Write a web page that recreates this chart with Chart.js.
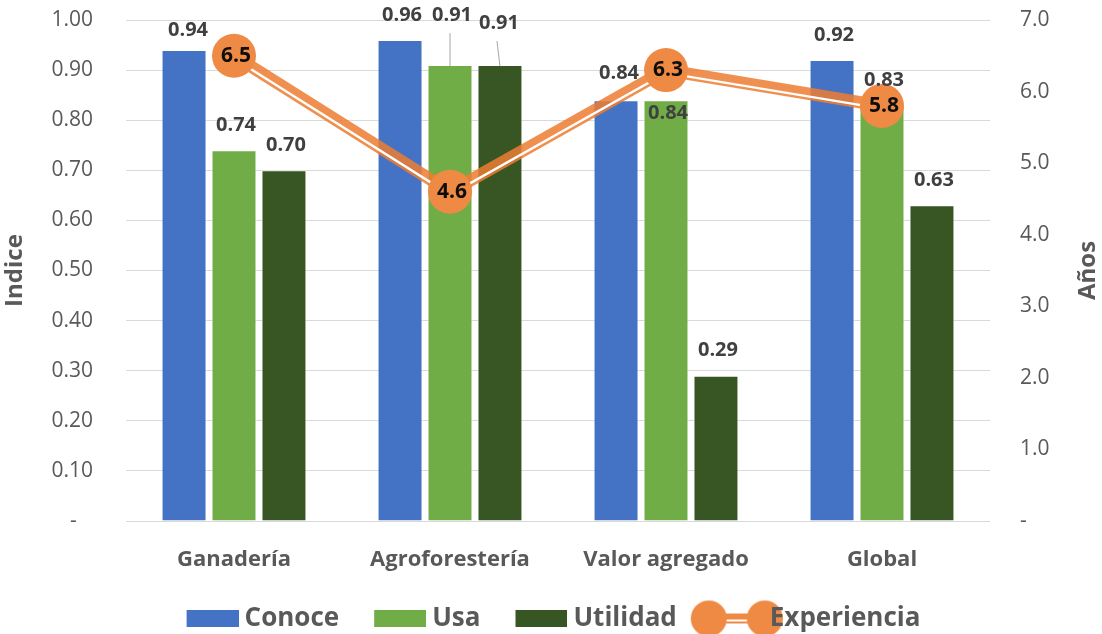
<!DOCTYPE html>
<html>
<head>
<meta charset="utf-8">
<script src="https://cdn.jsdelivr.net/npm/chart.js@4.4.1/dist/chart.umd.min.js"></script>
<style>
  html, body { margin: 0; padding: 0; background: #ffffff; }
  #wrap { width: 1102px; height: 634px; }
</style>
</head>
<body>
<div id="wrap"><canvas id="chart" width="1102" height="634"></canvas></div>
<script>
// ---- data ----
const categories = ['Ganadería', 'Agroforestería', 'Valor agregado', 'Global'];
const conoce = [0.94, 0.96, 0.84, 0.92];
const usa = [0.74, 0.91, 0.84, 0.83];
const utilidad = [0.70, 0.91, 0.29, 0.63];
const experiencia = [6.5, 4.6, 6.3, 5.8];

const indiceTicks = ['-', '0.10', '0.20', '0.30', '0.40', '0.50', '0.60', '0.70', '0.80', '0.90', '1.00'];
const aniosTicks = ['-', '1.0', '2.0', '3.0', '4.0', '5.0', '6.0', '7.0'];

// ---- styling ----
const FONT = "'Open Sans', sans-serif";
const C_CONOCE = '#4472C4';
const C_USA = '#70AD47';
const C_UTIL = '#375623';
const C_LINE = 'rgba(237,125,49,0.85)';
const C_MARK = '#EF8A45';
const GREY_TEXT = '#595959';
const LABEL_TEXT = '#404040';

// legend slot geometry: slot width, gap to the following item
const LEGEND_SLOT = 72;
const LEGEND_GAP = 8;

// label nudges per "dataset-category" (pixels relative to the default spot above a bar)
const labelNudge = {
  '0-0': { dx: 2, dy: 5 },
  '1-1': { dx: 0, dy: -25, leader: true },
  '2-1': { dx: -3, dy: -17, leader: true },
  '0-2': { dx: 1, dy: -2 },
  '1-2': { dx: 0, dy: 38 }
};

Chart.defaults.font.family = FONT;

// legend swatch: a 52x17 box ending just before the label text
function boxIcon(color) {
  const c = document.createElement('canvas');
  c.width = 86; c.height = 17;
  const g = c.getContext('2d');
  g.fillStyle = color;
  g.fillRect(34, 0, 52, 17);
  return c;
}

// legend swatch for the double line with two round markers
function lineIcon() {
  const c = document.createElement('canvas');
  c.width = 124; c.height = 38;
  const g = c.getContext('2d');
  const r = 18, cy = 19, x1 = 62 + 16 - 28, x2 = 62 + 16 + 28;
  g.fillStyle = C_MARK;
  g.fillRect(x1, cy - 5, x2 - x1, 10);
  g.fillStyle = '#ffffff';
  g.fillRect(x1, cy + 1, x2 - x1, 2);
  g.fillStyle = C_MARK;
  g.beginPath(); g.arc(x1, cy, r, 0, Math.PI * 2); g.fill();
  g.beginPath(); g.arc(x2, cy, r, 0, Math.PI * 2); g.fill();
  return c;
}

const legendIcons = [boxIcon(C_CONOCE), boxIcon(C_USA), boxIcon(C_UTIL), lineIcon()];

// shifts the white centre stroke of the double line downwards
const doubleLinePlugin = {
  id: 'doubleLine',
  beforeDatasetDraw(chart, args) {
    if (args.index === 4) { chart.ctx.save(); chart.ctx.translate(0, 2.8); }
  },
  afterDatasetDraw(chart, args) {
    if (args.index === 4) { chart.ctx.restore(); }
  }
};

// value labels for bars and markers, plus the two axis titles
const labelsPlugin = {
  id: 'valueLabels',
  afterDatasetsDraw(chart) {
    const ctx = chart.ctx;
    const barSets = [conoce, usa, utilidad];
    ctx.save();
    ctx.textAlign = 'center';
    ctx.textBaseline = 'middle';
    ctx.font = 'bold 20px ' + FONT;
    barSets.forEach((vals, i) => {
      const meta = chart.getDatasetMeta(i);
      meta.data.forEach((el, j) => {
        const n = labelNudge[i + '-' + j] || { dx: 0, dy: 0 };
        const x = el.x + 2 + n.dx;
        const y = el.y - 25 + n.dy;
        if (n.leader) {
          ctx.strokeStyle = '#A6A6A6';
          ctx.lineWidth = 1;
          ctx.beginPath();
          ctx.moveTo(x - 2, y + 18);
          ctx.lineTo(el.x, el.y + 1);
          ctx.stroke();
        }
        ctx.fillStyle = LABEL_TEXT;
        ctx.fillText(vals[j].toFixed(2), x, y);
      });
    });
    const pm = chart.getDatasetMeta(5);
    ctx.font = 'bold 21px ' + FONT;
    ctx.fillStyle = '#0d0d0d';
    pm.data.forEach((el, j) => {
      ctx.fillText(experiencia[j].toFixed(1), el.x + 2, el.y);
    });
    ctx.restore();
  },
  afterDraw(chart) {
    const ctx = chart.ctx;
    const a = chart.chartArea;
    [['Indice', 15], ['Años', 1088]].forEach(([text, x]) => {
      ctx.save();
      ctx.font = 'bold 24px ' + FONT;
      ctx.fillStyle = GREY_TEXT;
      ctx.textAlign = 'center';
      ctx.textBaseline = 'middle';
      ctx.translate(x, (a.top + a.bottom) / 2);
      ctx.rotate(-Math.PI / 2);
      ctx.fillText(text, 0, 0);
      ctx.restore();
    });
  }
};

// fixed axis box sizes, without the label overhang padding
function fixBox(prop, size) {
  return function (s) {
    s[prop] = size;
    s.paddingTop = 0; s.paddingBottom = 0; s.paddingLeft = 0; s.paddingRight = 0;
  };
}

const barCommon = {
  type: 'bar',
  yAxisID: 'y',
  order: 3,
  borderWidth: 1,
  borderColor: 'rgba(255,255,255,0.45)',
  categoryPercentage: 0.694,
  barPercentage: 0.9
};

new Chart(document.getElementById('chart'), {
  type: 'bar',
  data: {
    labels: categories,
    datasets: [
      Object.assign({ label: 'Conoce', data: conoce, backgroundColor: C_CONOCE }, barCommon),
      Object.assign({ label: 'Usa', data: usa, backgroundColor: C_USA }, barCommon),
      Object.assign({ label: 'Utilidad', data: utilidad, backgroundColor: C_UTIL }, barCommon),
      {
        type: 'line', label: 'Experiencia', data: experiencia, yAxisID: 'y1', order: 2,
        borderColor: C_LINE, borderWidth: 12.5, pointRadius: 0, tension: 0,
        borderJoinStyle: 'round', borderCapStyle: 'round', fill: false
      },
      {
        type: 'line', label: 'Experiencia-gap', data: experiencia, yAxisID: 'y1', order: 1,
        borderColor: '#ffffff', borderWidth: 2.3, pointRadius: 0, tension: 0, fill: false
      },
      {
        type: 'line', label: 'Experiencia-marker', data: experiencia, yAxisID: 'y1', order: 0,
        showLine: false, pointRadius: 22, pointBackgroundColor: C_MARK, pointBorderWidth: 0,
        pointBorderColor: C_MARK
      }
    ]
  },
  options: {
    responsive: false,
    animation: false,
    events: [],
    layout: { autoPadding: false, padding: { top: 20, left: 0, right: 22, bottom: -7.5 } },
    scales: {
      x: {
        grid: { display: false },
        border: { display: false },
        ticks: { color: GREY_TEXT, font: { size: 22, weight: 'bold' }, padding: 18, maxRotation: 0 },
        afterFit: fixBox('height', 76.5)
      },
      y: {
        position: 'left',
        min: 0, max: 1,
        grid: { color: '#D9D9D9', lineWidth: 1, drawTicks: false },
        border: { display: false },
        ticks: {
          stepSize: 0.1,
          color: GREY_TEXT,
          font: { size: 21 },
          padding: 33,
          callback: (v, i) => (i === 0 ? indiceTicks[i] + '   ' : indiceTicks[i])
        },
        afterFit: fixBox('width', 126)
      },
      y1: {
        position: 'right',
        min: 0, max: 7,
        grid: { display: false, drawTicks: false },
        border: { display: false },
        ticks: {
          stepSize: 1,
          color: GREY_TEXT,
          font: { size: 21 },
          padding: 30,
          callback: (v, i) => aniosTicks[i]
        },
        afterFit: fixBox('width', 90)
      }
    },
    plugins: {
      tooltip: { enabled: false },
      legend: {
        position: 'bottom',
        labels: {
          usePointStyle: true,
          pointStyleWidth: LEGEND_SLOT,
          boxHeight: 17,
          padding: LEGEND_GAP,
          color: GREY_TEXT,
          font: { size: 26, weight: 'bold' },
          generateLabels(chart) {
            return [0, 1, 2, 3].map(i => ({
              text: chart.data.datasets[i].label,
              pointStyle: legendIcons[i],
              fillStyle: 'rgba(0,0,0,0)',
              strokeStyle: 'rgba(0,0,0,0)',
              lineWidth: 0,
              hidden: false,
              datasetIndex: i,
              fontColor: GREY_TEXT
            }));
          }
        }
      }
    }
  },
  plugins: [doubleLinePlugin, labelsPlugin]
});
</script>
</body>
</html>
